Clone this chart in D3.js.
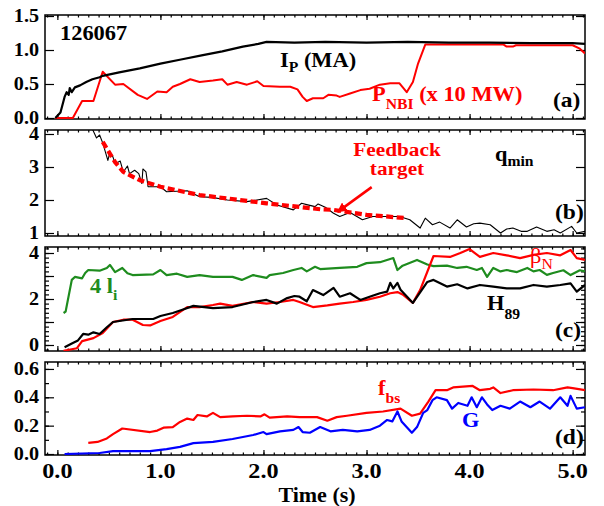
<!DOCTYPE html>
<html>
<head>
<meta charset="utf-8">
<script src="https://cdn.jsdelivr.net/npm/d3@7"></script>
<style>
  body { margin: 0; background: #fff; }
  svg { display: block; }
</style>
</head>
<body>
<svg id="chart" width="604" height="506"></svg>
<script>
// ---------- DATA ---------- //
// time axis
const xMajor = [0, 1, 2, 3, 4, 5];
const xLabels = ["0.0", "1.0", "2.0", "3.0", "4.0", "5.0"];

// (a) plasma current, NBI power  [time s, value]
const ip = [[-0.02,0],[0.03,0.08],[0.07,0.31],[0.09,0.38],[0.11,0.34],[0.12,0.44],[0.14,0.38],[0.17,0.45],
  [0.22,0.48],[0.28,0.53],[0.34,0.57],[0.41,0.6],[0.44,0.62],[0.6,0.67],[0.8,0.73],[1.0,0.8],[1.2,0.86],
  [1.4,0.92],[1.6,0.98],[1.8,1.05],[1.95,1.09],[2.03,1.12],[2.3,1.11],[2.6,1.12],[3.0,1.11],[3.4,1.12],
  [3.8,1.11],[4.2,1.11],[4.6,1.1],[5.0,1.1],[5.12,1.09]];
const pnbi = [[-0.02,0],[0.15,0],[0.24,0.25],[0.35,0.25],[0.44,0.68],[0.56,0.49],[0.64,0.5],[0.78,0.34],
  [0.87,0.28],[0.97,0.39],[1.06,0.38],[1.12,0.46],[1.19,0.5],[1.29,0.57],[1.38,0.53],[1.51,0.55],[1.6,0.57],
  [1.65,0.49],[1.74,0.53],[1.84,0.49],[1.94,0.54],[2.0,0.47],[2.16,0.46],[2.26,0.46],[2.33,0.42],[2.38,0.31],
  [2.42,0.25],[2.48,0.29],[2.58,0.29],[2.63,0.34],[2.71,0.33],[2.74,0.31],[2.84,0.36],[2.94,0.41],[3.03,0.43],
  [3.13,0.49],[3.23,0.51],[3.32,0.51],[3.39,0.38],[3.45,0.53],[3.5,0.8],[3.57,1.08],[4.0,1.08],[4.33,1.08],
  [4.36,1.05],[4.42,1.05],[4.45,1.07],[5.0,1.07],[5.07,1.02],[5.12,0.95]];

// (b) q_min and feedback target
const qmin = [[0.34,4.15],[0.38,3.88],[0.41,3.97],[0.44,3.73],[0.49,3.2],[0.51,3.45],[0.54,3.3],[0.56,3.1],
  [0.61,3.18],[0.64,2.85],[0.68,3.03],[0.7,2.8],[0.75,2.9],[0.79,2.8],[0.82,2.5],[0.83,2.94],[0.86,2.85],
  [0.88,2.4],[1.0,2.4],[1.06,2.25],[1.26,2.28],[1.38,2.1],[1.5,2.08],[1.65,2.0],[1.84,1.95],[2.03,2.05],
  [2.13,1.85],[2.29,1.7],[2.37,1.9],[2.42,1.86],[2.5,1.8],[2.53,1.88],[2.6,1.78],[2.68,1.6],[2.74,1.5],
  [2.84,1.62],[2.96,1.4],[3.06,1.5],[3.2,1.5],[3.32,1.5],[3.42,1.4],[3.52,1.15],[3.57,1.45],[3.64,1.25],
  [3.71,1.33],[3.81,1.15],[3.88,1.4],[3.97,1.18],[4.04,1.28],[4.1,1.3],[4.2,1.25],[4.3,1.0],[4.36,1.12],
  [4.42,1.15],[4.5,1.05],[4.56,1.05],[4.65,1.18],[4.75,1.05],[4.82,1.1],[4.88,1.0],[4.99,1.2],[5.04,1.0],[5.12,1.05]];
const target = [[0.44,3.76],[0.56,3.15],[0.64,2.85],[0.8,2.6],[1.0,2.4],[1.38,2.15],[2.03,1.9],[2.55,1.72],
  [2.68,1.7],[3.0,1.55],[3.39,1.45]];

// (c) 4 li, beta_N, H89
const li4 = [[0.06,1.39],[0.08,1.45],[0.14,2.83],[0.17,2.96],[0.24,2.9],[0.27,3.13],[0.3,3.26],[0.41,3.23],
  [0.48,3.35],[0.51,3.48],[0.56,3.17],[0.63,3.35],[0.68,3.12],[0.73,3.04],[0.93,3.07],[1.0,3.26],[1.06,3.04],
  [1.16,3.1],[1.26,2.96],[1.38,3.04],[1.51,2.96],[1.7,2.96],[1.79,2.83],[1.9,3.04],[2.03,2.92],[2.06,3.04],
  [2.19,3.13],[2.29,3.26],[2.37,3.35],[2.42,3.2],[2.5,3.4],[2.55,3.3],[2.74,3.35],[2.91,3.4],[3.0,3.56],
  [3.13,3.6],[3.26,3.78],[3.3,3.26],[3.35,3.45],[3.49,3.7],[3.59,3.5],[3.65,3.43],[3.78,3.45],[3.88,3.35],
  [3.97,3.4],[4.07,3.26],[4.12,3.35],[4.17,2.96],[4.23,3.35],[4.3,3.2],[4.36,3.26],[4.46,3.17],[4.56,3.35],
  [4.62,3.2],[4.68,3.26],[4.75,3.05],[4.81,3.13],[4.91,3.25],[4.98,3.04],[5.07,3.25],[5.12,3.2]];
const betaN = [[0.06,-0.25],[0.19,-0.14],[0.24,0.17],[0.35,0.3],[0.44,0.52],[0.54,1.0],[0.64,1.1],[0.73,1.1],
  [0.83,0.87],[0.9,0.85],[1.0,1.04],[1.12,1.22],[1.26,1.65],[1.38,1.65],[1.51,1.74],[1.58,1.8],[1.7,1.7],
  [1.9,1.87],[2.03,1.8],[2.16,1.87],[2.29,1.96],[2.35,1.87],[2.48,1.65],[2.62,1.72],[2.74,1.8],[2.87,1.87],
  [3.0,1.96],[3.13,2.1],[3.23,2.25],[3.3,2.3],[3.35,2.2],[3.45,1.83],[3.52,2.39],[3.65,3.87],[3.81,3.83],
  [3.91,4.0],[4.0,4.17],[4.1,3.83],[4.23,4.0],[4.36,3.9],[4.49,3.78],[4.62,3.92],[4.75,4.0],[4.88,3.9],
  [4.98,4.13],[5.04,3.78],[5.12,3.7]];
const h89 = [[0.07,-0.1],[0.15,0.09],[0.2,0.2],[0.25,0.48],[0.3,0.45],[0.35,0.55],[0.41,0.48],[0.48,0.77],
  [0.54,1.0],[0.73,1.13],[0.93,1.13],[1.0,1.26],[1.12,1.39],[1.22,1.54],[1.32,1.7],[1.51,1.6],[1.7,1.65],
  [1.9,1.87],[2.03,1.96],[2.13,1.8],[2.23,2.04],[2.3,2.13],[2.35,2.1],[2.42,1.9],[2.48,2.39],[2.58,2.17],
  [2.68,2.48],[2.74,2.1],[2.84,2.25],[2.94,1.96],[3.03,2.1],[3.13,2.25],[3.2,2.32],[3.23,2.7],[3.26,2.46],
  [3.3,2.7],[3.33,2.4],[3.45,1.83],[3.59,2.74],[3.65,2.83],[3.78,2.54],[3.88,2.64],[3.98,2.46],[4.1,2.61],
  [4.23,2.54],[4.36,2.46],[4.49,2.46],[4.62,2.61],[4.75,2.54],[4.88,2.61],[4.98,2.68],[5.04,2.32],[5.12,2.61]];

// (d) bootstrap fraction, G
const fbs = [[0.3,0.078],[0.39,0.085],[0.48,0.11],[0.54,0.14],[0.63,0.18],[0.9,0.155],[0.97,0.165],
  [1.03,0.186],[1.12,0.19],[1.19,0.226],[1.26,0.25],[1.32,0.24],[1.36,0.275],[1.45,0.265],[1.51,0.29],
  [1.58,0.26],[1.7,0.265],[1.84,0.27],[1.97,0.265],[2.01,0.28],[2.06,0.257],[2.23,0.265],[2.35,0.26],
  [2.52,0.26],[2.62,0.235],[2.71,0.26],[2.81,0.27],[3.0,0.29],[3.16,0.3],[3.33,0.32],[3.44,0.27],[3.52,0.285],
  [3.6,0.37],[3.67,0.45],[3.78,0.45],[3.84,0.47],[4.03,0.48],[4.1,0.45],[4.2,0.46],[4.23,0.47],[4.3,0.43],
  [4.42,0.45],[4.62,0.455],[4.81,0.45],[4.95,0.47],[5.0,0.465],[5.12,0.45]];
const gFactor = [[0.07,0.0],[0.41,0.007],[0.54,0.02],[0.73,0.02],[0.9,0.02],[1.06,0.035],[1.19,0.05],
  [1.32,0.077],[1.51,0.085],[1.7,0.106],[1.8,0.12],[1.9,0.134],[2.0,0.155],[2.03,0.14],[2.16,0.16],
  [2.29,0.17],[2.34,0.19],[2.38,0.155],[2.45,0.15],[2.55,0.19],[2.65,0.16],[2.77,0.17],[2.91,0.16],
  [3.03,0.17],[3.13,0.2],[3.2,0.24],[3.25,0.23],[3.3,0.3],[3.34,0.23],[3.44,0.15],[3.49,0.19],[3.55,0.29],
  [3.59,0.31],[3.64,0.38],[3.68,0.4],[3.78,0.38],[3.83,0.32],[3.89,0.36],[3.98,0.34],[4.02,0.4],[4.07,0.33],
  [4.12,0.4],[4.17,0.35],[4.22,0.31],[4.3,0.34],[4.39,0.32],[4.49,0.37],[4.59,0.33],[4.68,0.37],[4.78,0.32],
  [4.88,0.4],[4.95,0.34],[4.98,0.41],[5.04,0.32],[5.12,0.33]];

// arrow for feedback target [time, q]
const arrowPts = [[3.05,2.39],[2.72,1.64]];

// y tick labels per panel
const aTicks = [0, 0.5, 1, 1.5],  aLabels = ["0.0", "0.5", "1.0", "1.5"];
const bTicks = [1, 2, 3, 4],      bLabels = ["1", "2", "3", "4"];
const cTicks = [0, 2, 4],         cLabels = ["0", "2", "4"];
const dTicks = [0, 0.2, 0.4, 0.6], dLabels = ["0.0", "0.2", "0.4", "0.6"];

// ---------- LAYOUT ---------- //
const L = 45, R = 585;
const FONT = "Liberation Serif";
const svg = d3.select("#chart");
const x = d3.scaleLinear().domain([-0.12, 5.12]).range([L, R]);

const panels = [
  {id: "a", top: 15,  bottom: 119, dom: [-0.015, 1.515], major: aTicks, labels: aLabels, minor: [], majorY: aTicks},
  {id: "b", top: 130, bottom: 236, dom: [0.909, 4.121],  major: bTicks, labels: bLabels, minor: [], majorY: bTicks},
  {id: "c", top: 247, bottom: 351, dom: [-0.261, 4.261], major: cTicks, labels: cLabels,
    minor: d3.range(-0.2, 4.3, 0.2), majorY: [0, 1, 2, 3, 4]},
  {id: "d", top: 362, bottom: 455, dom: [-0.007, 0.649], major: dTicks, labels: dLabels,
    minor: d3.range(0, 0.65, 0.1), majorY: dTicks}
];

function stretchText(g, px, py, sx) {
  return g.append("text")
    .attr("transform", `translate(${px},${py}) scale(${sx},1)`)
    .attr("font-family", FONT).attr("font-weight", "bold");
}

function addParts(t, parts) {
  // parts: [text, size, dy, weight]
  parts.forEach(p => {
    const s = t.append("tspan").text(p[0]).attr("font-size", p[1]);
    if (p[2]) s.attr("dy", p[2]);
    if (p[3]) s.attr("font-weight", p[3]);
  });
}

panels.forEach(p => {
  p.y = d3.scaleLinear().domain(p.dom).range([p.bottom, p.top]);
  const g = svg.append("g").attr("class", "panel-" + p.id);

  // clip
  svg.append("clipPath").attr("id", "clip-" + p.id)
    .append("rect").attr("x", L).attr("y", p.top).attr("width", R - L).attr("height", p.bottom - p.top);

  // x ticks, bottom and top, pointing in
  const xMinor = d3.range(-0.1, 5.15, 0.1);
  [[d3.axisBottom, p.bottom], [d3.axisTop, p.top]].forEach(([ax, yy]) => {
    g.append("g").attr("transform", `translate(0,${yy})`)
      .call(ax(x).tickValues(xMinor).tickSize(-2.5).tickFormat(""))
      .call(s => s.select(".domain").remove());
    g.append("g").attr("transform", `translate(0,${yy})`)
      .call(ax(x).tickValues(xMajor).tickSize(-5).tickFormat(""))
      .call(s => s.select(".domain").remove());
  });

  // y ticks, left and right, pointing in
  [[d3.axisLeft, L], [d3.axisRight, R]].forEach(([ax, xx]) => {
    if (p.minor.length) {
      g.append("g").attr("transform", `translate(${xx},0)`)
        .call(ax(p.y).tickValues(p.minor).tickSize(-4).tickFormat(""))
        .call(s => s.select(".domain").remove());
    }
    g.append("g").attr("transform", `translate(${xx},0)`)
      .call(ax(p.y).tickValues(p.majorY).tickSize(-9).tickFormat(""))
      .call(s => s.select(".domain").remove());
  });
  g.selectAll(".tick line").attr("stroke", "#000").attr("stroke-width", 1.2);

  // y tick labels
  p.major.forEach((v, i) => {
    stretchText(g, 39, p.y(v) + 6, 1.12)
      .attr("text-anchor", "end").attr("font-size", 18).text(p.labels[i]);
  });

  // frame
  g.append("rect").attr("x", L).attr("y", p.top).attr("width", R - L).attr("height", p.bottom - p.top)
    .attr("fill", "none").attr("stroke", "#000").attr("stroke-width", 1.5);

  p.g = svg.append("g").attr("clip-path", `url(#clip-${p.id})`);
});

function drawLine(p, data, color, width, dash) {
  const line = d3.line().x(d => x(d[0])).y(d => p.y(d[1]));
  const path = p.g.append("path").datum(data).attr("d", line)
    .attr("fill", "none").attr("stroke", color).attr("stroke-width", width)
    .attr("stroke-linejoin", "round");
  if (dash) path.attr("stroke-dasharray", dash);
  return path;
}

const RED = "#ff0000", GREEN = "#1e8c1e", BLUE = "#0000ff";
const [pa, pb, pc, pd] = panels;

// (a)
drawLine(pa, pnbi, RED, 2);
drawLine(pa, ip, "#000", 2.2);
// (b)
drawLine(pb, qmin, "#000", 1.1);
drawLine(pb, target, RED, 4.2, "7,3.5");
// (c)
drawLine(pc, li4, GREEN, 2.2);
drawLine(pc, betaN, RED, 2.2);
drawLine(pc, h89, "#000", 2.2);
// (d)
drawLine(pd, fbs, RED, 2.2);
drawLine(pd, gFactor, BLUE, 2.2);

// feedback arrow
svg.append("defs").append("marker").attr("id", "arrowhead")
  .attr("viewBox", "0 0 10 10").attr("refX", 9).attr("refY", 5)
  .attr("markerWidth", 4).attr("markerHeight", 4).attr("orient", "auto")
  .append("path").attr("d", "M0,0 L10,5 L0,10 Z").attr("fill", RED);
svg.append("line")
  .attr("x1", x(arrowPts[0][0])).attr("y1", pb.y(arrowPts[0][1]))
  .attr("x2", x(arrowPts[1][0])).attr("y2", pb.y(arrowPts[1][1]))
  .attr("stroke", RED).attr("stroke-width", 2.5).attr("marker-end", "url(#arrowhead)");

// x tick labels and title
xMajor.forEach((v, i) => {
  stretchText(svg, x(v), 478, 1.1).attr("text-anchor", "middle").attr("font-size", 22).text(xLabels[i]);
});
stretchText(svg, 317, 502, 1.0).attr("text-anchor", "middle").attr("font-size", 22).text("Time (s)");

// ---------- ANNOTATIONS ---------- //
const SX = 1.12;
addParts(stretchText(svg, 60, 40, SX), [["126067", 20]]);
addParts(stretchText(svg, 280, 67, SX), [["I", 20], ["P", 14, 5], [" (MA)", 20, -5]]);
addParts(stretchText(svg, 372, 101, SX).attr("fill", RED), [["P", 20], ["NBI", 14, 8], [" (x 10 MW)", 20, -8]]);
addParts(stretchText(svg, 553, 107, SX), [["(a)", 21]]);

addParts(stretchText(svg, 397, 156, SX).attr("fill", RED).attr("text-anchor", "middle"), [["Feedback", 19]]);
addParts(stretchText(svg, 397, 175, SX).attr("fill", RED).attr("text-anchor", "middle"), [["target", 19]]);
addParts(stretchText(svg, 495, 161, SX), [["q", 20], ["min", 14, 5]]);
addParts(stretchText(svg, 555, 219, SX), [["(b)", 21]]);

addParts(stretchText(svg, 90, 293, SX).attr("fill", GREEN), [["4 l", 20], ["i", 14, 7]]);
addParts(stretchText(svg, 530, 263, SX).attr("fill", RED), [["β", 20, 0, "normal"], ["N", 14, 6, "normal"]]);
addParts(stretchText(svg, 487, 310, SX), [["H", 20], ["89", 14, 9]]);
addParts(stretchText(svg, 555, 337, SX), [["(c)", 21]]);

addParts(stretchText(svg, 378, 395, SX).attr("fill", RED), [["f", 20], ["bs", 14, 8]]);
addParts(stretchText(svg, 462, 427, SX).attr("fill", BLUE), [["G", 20]]);
addParts(stretchText(svg, 555, 444, SX), [["(d)", 21]]);
</script>
</body>
</html>
